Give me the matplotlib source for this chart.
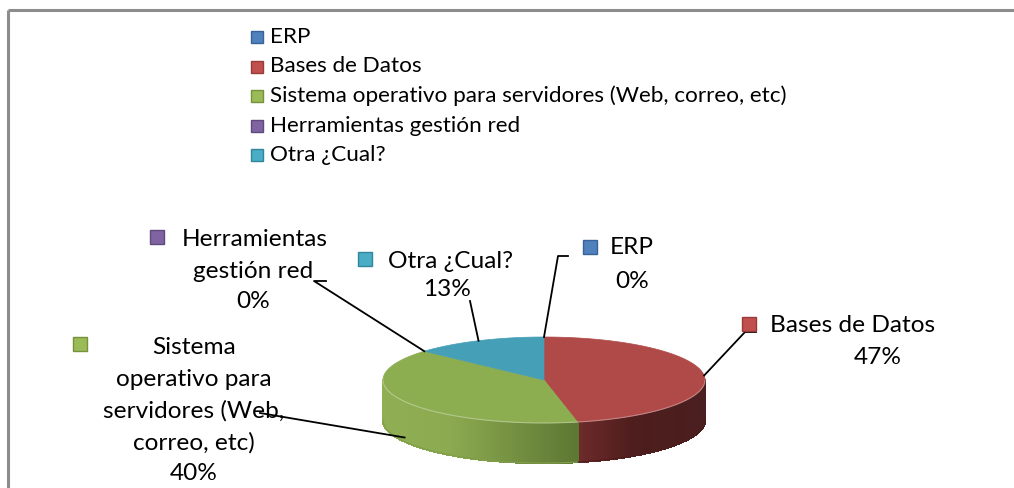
"""
3D-style pie chart: software usage by category (Excel look), drawn with plain patches.
"""
import textwrap

import matplotlib

matplotlib.use("Agg")
import matplotlib.pyplot as plt
import numpy as np
from matplotlib.colors import to_rgb
from matplotlib.patches import Polygon, Rectangle

# ---- data -------------------------------------------------------------
categories = [
    "ERP",
    "Bases de Datos",
    "Sistema operativo para servidores (Web, correo, etc)",
    "Herramientas gestión red",
    "Otra ¿Cual?",
]
values = [0, 7, 6, 0, 2]

# ---- style ------------------------------------------------------------
plt.rcParams["font.family"] = ["Lato", "DejaVu Sans"]
key_colors = ["#4f81bd", "#c0504d", "#9bbb59", "#8064a2", "#4bacc6"]
key_edges = ["#3a6298", "#9a3b39", "#76923c", "#5f4a7c", "#31859c"]
top_colors = ["#4a7ab3", "#b04a48", "#8dad51", "#7a5f9a", "#459fb6"]
side_ramps = {
    1: [(0.0, "#6f2b2a"), (0.45, "#4e1d1d"), (1.0, "#4a1f1f")],
    2: [(0.0, "#90af55"), (0.35, "#8caa50"), (1.0, "#5d7833")],
    4: [(0.0, "#3a8599"), (1.0, "#2b6372")],
}

W, H = 1014, 488
cx, cy, rx, ry, depth = 544, 380, 161, 43, 40
label_size, legend_size = 17.6, 16.2

# label layout: marker box, first-line centre, other-lines centre, first row, line step, wrap width
label_layout = {
    0: dict(mx=583, my=247, c1=632, c2=632, y0=248, step=33, wrap=20, stub=(568, 256, 558, 256)),
    1: dict(mx=742, my=324, c1=853, c2=878, y0=325, step=32, wrap=20, stub=(756, 332, 745, 332)),
    2: dict(mx=73, my=344, c1=194, c2=194, y0=348, step=31.5, wrap=16, stub=(260, 413, 260, 413)),
    3: dict(mx=150, my=237, c1=255, c2=253, y0=240, step=31, wrap=12, stub=(326, 281, 314, 281)),
    4: dict(mx=358, my=259, c1=451, c2=447, y0=262, step=28, wrap=20, stub=(470, 301, 470, 301)),
}


def rim(theta, drop=0.0):
    t = np.radians(theta)
    return cx + rx * np.cos(t), cy - ry * np.sin(t) + drop


def ramp_color(ramp, t):
    t = min(max(t, 0.0), 1.0)
    for (t0, c0), (t1, c1) in zip(ramp[:-1], ramp[1:]):
        if t <= t1:
            f = (t - t0) / (t1 - t0) if t1 > t0 else 0.0
            a, b = np.array(to_rgb(c0)), np.array(to_rgb(c1))
            return a + (b - a) * f
    return np.array(to_rgb(ramp[-1][1]))


fig = plt.figure(figsize=(W / 100, H / 100), dpi=100)
ax = fig.add_axes([0, 0, 1, 1])
ax.set_xlim(0, W)
ax.set_ylim(H, 0)
ax.axis("off")

# chart-area border (only top and left visible in the crop)
ax.plot([8, W], [10, 10], color="#8c8c8c", lw=2.2, solid_capstyle="butt")
ax.plot([8, 8], [10, H], color="#8c8c8c", lw=2.2, solid_capstyle="butt")

total = float(sum(values))
fracs = [v / total for v in values]
bounds = 90 - 360 * np.concatenate([[0], np.cumsum(fracs)])

# side walls (front half only: 180..360 deg)
for i, v in enumerate(values):
    if v == 0:
        continue
    a_hi, a_lo = bounds[i], bounds[i + 1]
    lo, hi = a_lo % 360, a_hi % 360
    if hi <= lo:
        hi += 360
    segs = []
    for base in (0, 360):
        s, e = max(lo, 180 + base), min(hi, 360 + base)
        if e > s:
            segs.append((s, e))
    ramp = side_ramps.get(i, [(0, top_colors[i]), (1, top_colors[i])])
    for s, e in segs:
        xs_all = [rim(a)[0] for a in (s, e)]
        x0, x1 = min(xs_all), max(xs_all)
        steps = np.linspace(s, e, int((e - s) * 2) + 2)
        for a0, a1 in zip(steps[:-1], steps[1:]):
            p0, p1 = rim(a0), rim(a1)
            poly = [p0, p1, rim(a1, depth), rim(a0, depth)]
            xm = 0.5 * (p0[0] + p1[0])
            t = (xm - x0) / (x1 - x0) if x1 > x0 else 0
            col = ramp_color(ramp, t)
            ax.add_patch(Polygon(poly, closed=True, facecolor=col, edgecolor=col,
                                 lw=1.0, antialiased=False))
        # smooth outline of the wall's bottom edge
        arc = np.linspace(s, e, 100)
        ax.plot([rim(a, depth)[0] for a in arc], [rim(a, depth)[1] for a in arc],
                color=ramp_color(ramp, 0.5), lw=0.8)

# top faces
for i, v in enumerate(values):
    if v == 0:
        continue
    a_hi, a_lo = bounds[i], bounds[i + 1]
    arc = np.linspace(a_hi, a_lo, 200)
    pts = [(cx, cy)] + [rim(a) for a in arc]
    ax.add_patch(Polygon(pts, closed=True, facecolor=top_colors[i],
                         edgecolor=top_colors[i], lw=0.5))

# soft rim highlight along the front edge of the top face
front = np.linspace(180, 360, 200)
ax.plot([rim(a)[0] for a in front], [rim(a)[1] for a in front],
        color="white", alpha=0.35, lw=0.8)

# data labels with leader lines
for i, cat in enumerate(categories):
    lay = label_layout[i]
    mid = 0.5 * (bounds[i] + bounds[i + 1])
    mid_n = mid % 360
    drop = depth * 0.9 if 180 < mid_n < 360 else 0.0
    ax_x, ax_y = rim(mid, drop)
    sx0, sy0, sx1, sy1 = lay["stub"]
    ax.plot([sx0, sx1, ax_x], [sy0, sy1, ax_y], color="black", lw=1.3, zorder=5)

    pct = f"{round(fracs[i] * 100):d}%"
    lines = textwrap.wrap(cat, lay["wrap"]) + [pct]
    for k, line in enumerate(lines):
        x = lay["c1"] if k == 0 else lay["c2"]
        ax.text(x, lay["y0"] + k * lay["step"], line, fontsize=label_size,
                ha="center", va="center", color="black", zorder=6)
    ax.add_patch(Rectangle((lay["mx"], lay["my"] - 7), 14, 14,
                           facecolor=key_colors[i], edgecolor=key_edges[i], lw=1.0, zorder=6))

# legend at the top
leg_x, leg_y0, leg_step = 251, 37, 29.5
for i, cat in enumerate(categories):
    y = leg_y0 + i * leg_step
    ax.add_patch(Rectangle((leg_x, y - 6), 12, 12, facecolor=key_colors[i],
                           edgecolor=key_edges[i], lw=1.0))
    ax.text(leg_x + 19, y, cat, fontsize=legend_size, ha="left", va="center", color="black")

fig.savefig("out.png", dpi=100)
